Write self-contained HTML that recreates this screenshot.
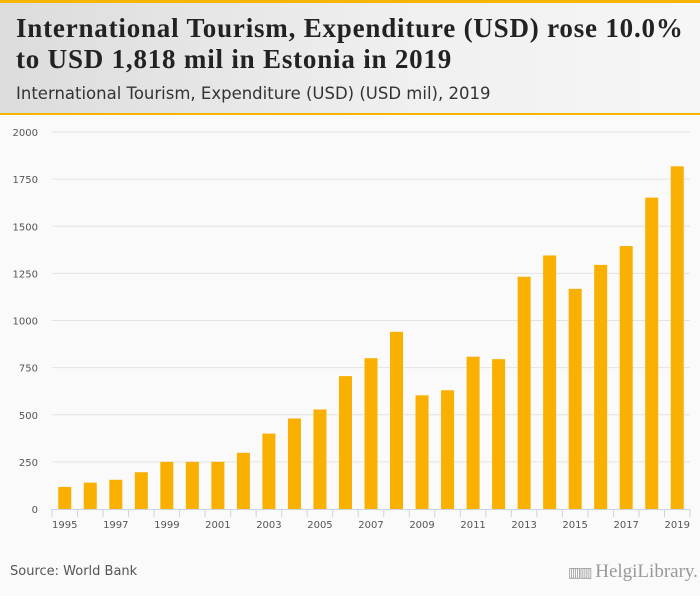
<!DOCTYPE html>
<html><head><meta charset="utf-8"><style>
body{margin:0;width:700px;height:596px;overflow:hidden;background:#fafafa;font-family:"Liberation Sans",sans-serif}
#hdr{position:absolute;left:0;top:0;width:700px;height:113px;background:linear-gradient(90deg,#dcdcdc,#f0f0f0 60%,#f6f6f6);border-top:3px solid #f7b500;box-sizing:border-box}
#t1{position:absolute;left:16px;top:10px;font:bold 27px "Liberation Serif",serif;color:#222;line-height:31px;letter-spacing:0.8px;white-space:nowrap}
#t2{position:absolute;left:16px;top:81px;font:16.5px "DejaVu Sans",sans-serif;color:#333;white-space:nowrap}
#line2{position:absolute;left:0;top:113px;width:700px;height:2px;background:#f7b500}
#src{position:absolute;left:10px;top:564px;font:13px "DejaVu Sans",sans-serif;color:#555}
#logo{position:absolute;left:568px;top:561px;font:19px "Liberation Serif",serif;color:#999;white-space:nowrap}
</style></head><body>
<div id="hdr">
<div id="t1">International Tourism, Expenditure (USD) rose 10.0%<br>to USD 1,818 mil in Estonia in 2019</div>
<div id="t2">International Tourism, Expenditure (USD) (USD mil), 2019</div>
</div>
<div id="line2"></div>
<svg id="chart" width="700" height="596" style="position:absolute;left:0;top:0"></svg>
<div id="src">Source: World Bank</div>
<div id="logo"><span style="font-size:14px;letter-spacing:-2px">▥▥</span> HelgiLibrary.</div>
<script>
const years=[1995,1996,1997,1998,1999,2000,2001,2002,2003,2004,2005,2006,2007,2008,2009,2010,2011,2012,2013,2014,2015,2016,2017,2018,2019];
const values=[117,140,155,195,250,250,250,298,400,480,528,705,800,940,603,630,808,795,1232,1345,1168,1295,1395,1652,1818];
const yTicks=[0,250,500,750,1000,1250,1500,1750,2000];
const ns="http://www.w3.org/2000/svg";
const svg=document.getElementById('chart');
const x0=52,x1=690,y0=509,y1=132,ymax=2000;
const bw=(x1-x0)/years.length;
const ys=v=>y0-(v/ymax)*(y0-y1);
const xs=i=>x0+bw*i+bw/2;
function mk(t,a){const e=document.createElementNS(ns,t);for(const k in a)e.setAttribute(k,a[k]);svg.appendChild(e);return e;}
yTicks.forEach(v=>{
 if(v>0){const g=mk('line',{x1:x0,x2:x1,y1:ys(v),y2:ys(v),stroke:'#e3e3e3','stroke-width':1});
 
 }
 const t=mk('text',{x:38,y:ys(v)+4,'text-anchor':'end','font-size':'10','font-family':'DejaVu Sans, sans-serif',fill:'#555'});
 t.textContent=v;
 
 
});
values.forEach((v,i)=>{
 const r=mk('rect',{x:xs(i)-6.5,y:ys(v),width:13,height:y0-ys(v),fill:'#f9b000'});
 
 
});
const ax=mk('line',{x1:x0,x2:x1,y1:y0+0.5,y2:y0+0.5,stroke:'#c8d3e6','stroke-width':1});


for(let i=0;i<=years.length;i++){
 const tk=mk('line',{x1:x0+bw*i,x2:x0+bw*i,y1:y0,y2:y0+8,stroke:'#c8d3e6'});
 
 
}
years.forEach((yr,i)=>{
 if(i%2)return;
 const t=mk('text',{x:xs(i),y:y0+19,'text-anchor':'middle','font-size':'10','font-family':'DejaVu Sans, sans-serif',fill:'#555'});
 t.textContent=yr;
 
 
});
</script>
</body></html>
